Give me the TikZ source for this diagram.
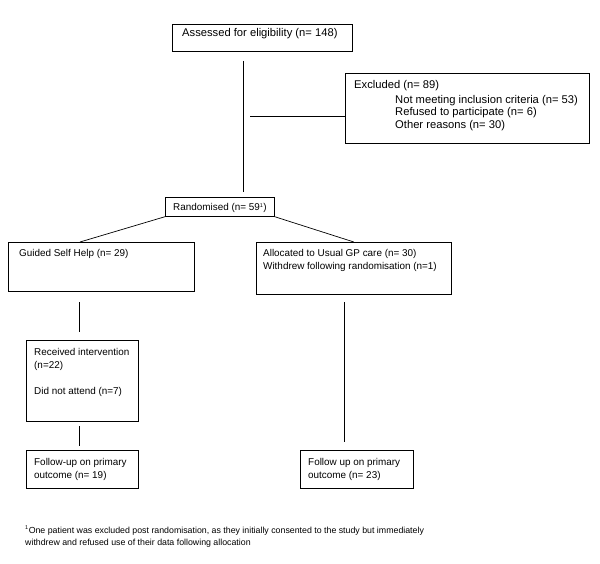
\documentclass[tikz,border=0pt]{standalone}
\usepackage{fontspec}
\setmainfont{Liberation Sans}
\newcommand{\tinysup}[1]{\textsuperscript{\fontsize{5.5}{6}\selectfont #1}}
\tikzset{
  box/.style={draw, line width=0.7pt, inner sep=0pt, anchor=north west},
  bigtxt/.style={inner sep=0pt, anchor=north west, align=left, font=\fontsize{11.2}{12.6}\selectfont},
  midtxt/.style={inner sep=0pt, anchor=north west, align=left, font=\fontsize{9.9}{13}\selectfont},
  link/.style={line width=0.7pt}
}
\begin{document}
\begin{tikzpicture}[x=1pt,y=-1pt]
  \useasboundingbox (0,0) rectangle (600,564);
  % boxes
  \node[box, minimum width=180, minimum height=27] (assess) at (172,24) {};
  \node[box, minimum width=244, minimum height=70] (excl) at (345,73) {};
  \node[box, minimum width=109, minimum height=19] (rand) at (165,197) {};
  \node[box, minimum width=186, minimum height=49] (guided) at (8,242) {};
  \node[box, minimum width=195, minimum height=52] (alloc) at (256,242) {};
  \node[box, minimum width=112, minimum height=81] (recv) at (26,340) {};
  \node[box, minimum width=112, minimum height=38] (followl) at (26,450) {};
  \node[box, minimum width=113, minimum height=38] (followr) at (300,450) {};
  % texts
  \node[bigtxt] (assesstxt) at (182,28.5) {Assessed for eligibility (n= 148)};
  \node[bigtxt] (excltxt) at (354,79.8) {Excluded (n= 89)\\[2.4pt]
    \hspace*{41pt}Not meeting inclusion criteria (n= 53)\\
    \hspace*{41pt}Refused to participate (n= 6)\\
    \hspace*{41pt}Other reasons (n= 30)};
  \node[midtxt] (randtxt) at (173,203.3) {Randomised (n= 59\tinysup{1})};
  \node[midtxt] (guidedtxt) at (19,249.3) {Guided Self Help (n= 29)};
  \node[midtxt] (alloctxt) at (263,249.3) {Allocated to Usual GP care (n= 30)\\Withdrew following randomisation (n=1)};
  \node[midtxt] (recvtxt) at (34,348.3) {Received intervention\\(n=22)\\[13pt]Did not attend (n=7)};
  \node[midtxt] (followltxt) at (34,458.3) {Follow-up on primary\\outcome (n= 19)};
  \node[midtxt] (followrtxt) at (308,458.3) {Follow up on primary\\outcome (n= 23)};
  \node[inner sep=0pt, anchor=north west, align=left, font=\fontsize{8.8}{12}\selectfont] (note) at (25,525.5)
    {\tinysup{1}One patient was excluded post randomisation, as they initially consented to the study but immediately\\withdrew and refused use of their data following allocation};
  % connectors
  \coordinate (trunktop) at (243,61);
  \coordinate (trunkbot) at (243,192);
  \coordinate (exclfrom) at (250,116);
  \draw[link] (trunktop) -- (trunkbot);
  \draw[link] (exclfrom) -- (exclfrom -| excl.west);
  \draw[link] (rand.south west) -- ([xshift=72pt]guided.north west);
  \draw[link] (rand.south east) -- (alloc.north);
  \coordinate (gtop) at (79,302);
  \coordinate (gbot) at (79,332);
  \coordinate (rtop) at (79,426);
  \coordinate (rbot) at (79,446);
  \coordinate (atop) at (344,302);
  \coordinate (abot) at (344,442);
  \draw[link] (gtop) -- (gbot);
  \draw[link] (rtop) -- (rbot);
  \draw[link] (atop) -- (abot);
\end{tikzpicture}
\end{document}
